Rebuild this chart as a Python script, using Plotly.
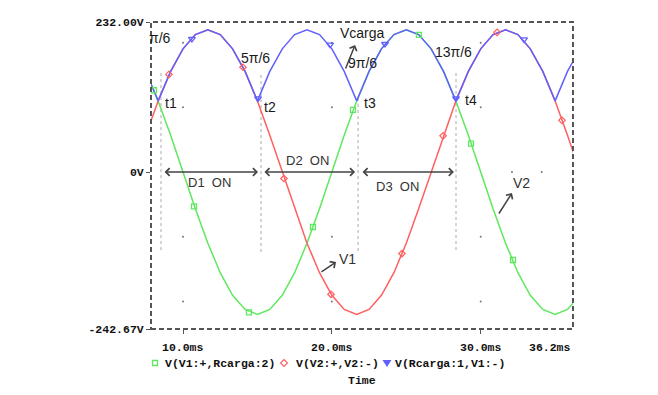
import plotly.graph_objects as go

# ---------------- data ----------------
t_ms = [7.50, 8.33, 9.17, 10.00, 10.83, 11.67, 12.50, 13.33, 14.17, 15.00,
        15.83, 16.67, 17.50, 18.33, 19.17, 20.00, 20.83, 21.67, 22.50, 23.33,
        24.17, 25.00, 25.83, 26.67, 27.50, 28.33, 29.17, 30.00, 30.83, 31.67,
        32.50, 33.33, 34.17, 35.00, 35.83, 36.67]

v1 = [155.6, 110.0, 56.9, 0.0, -56.9, -110.0, -155.6, -190.5, -212.5, -220.0,
      -212.5, -190.5, -155.6, -110.0, -56.9, 0.0, 56.9, 110.0, 155.6, 190.5,
      212.5, 220.0, 212.5, 190.5, 155.6, 110.0, 56.9, 0.0, -56.9, -110.0,
      -155.6, -190.5, -212.5, -220.0, -212.5, -190.5]

v2 = [56.9, 110.0, 155.6, 190.5, 212.5, 220.0, 212.5, 190.5, 155.6, 110.0,
      56.9, 0.0, -56.9, -110.0, -155.6, -190.5, -212.5, -220.0, -212.5, -190.5,
      -155.6, -110.0, -56.9, 0.0, 56.9, 110.0, 155.6, 190.5, 212.5, 220.0,
      212.5, 190.5, 155.6, 110.0, 56.9, 0.0]

vcarga = [155.6, 110.0, 155.6, 190.5, 212.5, 220.0, 212.5, 190.5, 155.6, 110.0,
          155.6, 190.5, 212.5, 220.0, 212.5, 190.5, 155.6, 110.0, 155.6, 190.5,
          212.5, 220.0, 212.5, 190.5, 155.6, 110.0, 155.6, 190.5, 212.5, 220.0,
          212.5, 190.5, 155.6, 110.0, 155.6, 190.5]

# PSpice marker positions
m1_t = [8.05, 10.74, 14.43, 18.73, 21.42, 25.85, 29.35, 32.17]
m1_v = [126.5, -53.0, -217.0, -85.0, 96.0, 212.0, 44.0, -136.0]
m2_t = [9.06, 14.03, 16.78, 19.94, 24.71, 27.47, 31.10, 35.46]
m2_v = [151.0, 162.0, -10.0, -189.0, -126.0, 56.0, 216.0, 80.0]
m3_t = [10.60, 15.04, 19.88, 23.57, 28.34, 32.91]
m3_v = [206.0, 114.0, 197.0, 198.0, 114.0, 205.0]

# instants t1..t4 and their dotted markers
t_marks = [8.52, 15.24, 21.76, 28.34]
t_marks_top = [153.0, 150.0, 114.5, 153.0]
t_marks_bottom = -123.6
t_labels = ["t1", "t2", "t3", "t4"]

# axis
y_min, y_max = -242.67, 232.0
x_min, x_max = 7.85, 36.2
y_tick_vals = [232.0, 0.0, -242.67]
y_tick_text = ["232.00V", "0V", "-242.67V"]
x_tick_vals = [10.0, 20.0, 30.0]
x_tick_text = ["10.0ms", "20.0ms", "30.0ms"]
x_end_text = "36.2ms"

grid_t = [10, 10, 10, 10, 20, 20, 20, 20, 30, 30, 30, 30, 32.1, 34.1]
grid_v = [200, 100, -100, -200, 200, 100, -100, -200, 200, 100, -100, -200, 0, 0]

legend_names = ["V(V1:+,Rcarga:2)", "V(V2:+,V2:-)", "V(Rcarga:1,V1:-)"]

GREEN = "#5fe85f"
RED = "#ff5f5f"
BLUE = "#6060ff"

fig = go.Figure()

fig.add_trace(go.Scatter(x=grid_t, y=grid_v, mode="markers",
                         marker=dict(size=2, color="#777"), showlegend=False, hoverinfo="skip"))
fig.add_trace(go.Scatter(x=t_ms, y=v1, mode="lines", line=dict(color=GREEN, width=1.5), showlegend=False))
fig.add_trace(go.Scatter(x=t_ms, y=v2, mode="lines", line=dict(color=RED, width=1.5), showlegend=False))
fig.add_trace(go.Scatter(x=t_ms, y=vcarga, mode="lines", line=dict(color=BLUE, width=1.5), showlegend=False))
fig.add_trace(go.Scatter(x=m1_t, y=m1_v, mode="markers",
                         marker=dict(symbol="square-open", size=5, color=GREEN, line=dict(width=1.3)), showlegend=False))
fig.add_trace(go.Scatter(x=m2_t, y=m2_v, mode="markers",
                         marker=dict(symbol="diamond-open", size=5, color=RED, line=dict(width=1.2)), showlegend=False))
fig.add_trace(go.Scatter(x=m3_t, y=m3_v, mode="markers",
                         marker=dict(symbol="triangle-down-open", size=6, color=BLUE, line=dict(width=1.3)), showlegend=False))

shapes = []
annotations = []

# dotted vertical lines at t1..t4
for tm, top in zip(t_marks, t_marks_top):
    shapes.append(dict(type="line", xref="x", yref="y", x0=tm, x1=tm, y0=top, y1=t_marks_bottom,
                       line=dict(color="#aaa", width=1, dash="dot"), layer="below"))

# dashed frame
shapes.append(dict(type="rect", xref="paper", yref="paper", x0=0, x1=1, y0=0, y1=1,
                   line=dict(color="#555", width=2, dash="5px,3px")))

def label(x, y, text, size=14, color="#1a1a1a"):
    annotations.append(dict(x=x, y=y, xref="x", yref="y", text=text, showarrow=False,
                            font=dict(family="Liberation Sans, Arial", size=size, color=color),
                            xanchor="center", yanchor="middle"))

label(8.45, 207.3, "π/6")
label(14.84, 176.3, "5π/6")
label(22.09, 215.0, "Vcarga")
label(22.03, 168.6, "9π/6")
label(28.14, 185.6, "13π/6")
for (tx, ty, tt) in [(9.19, 106.8, t_labels[0]), (15.84, 100.6, t_labels[1]),
                     (22.56, 106.8, t_labels[2]), (29.35, 111.4, t_labels[3])]:
    label(tx, ty, tt)
label(11.81, -16.9, "D1  ON", size=13, color="#333")
label(18.33, 17.1, "D2  ON", size=13, color="#333")
label(24.44, -23.1, "D3  ON", size=13, color="#333")
label(21.08, -134.4, "V1", color="#333")
label(32.71, -16.9, "V2", color="#333")

def arrow(x0, y0, x1, y1, both=False):
    annotations.append(dict(x=x1, y=y1, ax=x0, ay=y0, xref="x", yref="y", axref="x", ayref="y",
                            text="", showarrow=True, arrowhead=4, arrowsize=1, arrowwidth=1.5,
                            arrowcolor="#444", arrowside="end+start" if both else "end",
                            startarrowhead=4, startarrowsize=1))

# D1/D2/D3 conduction arrows at 0 V
arrow(8.66, 0, 15.04, 0, both=True)
arrow(15.37, 0, 21.56, 0, both=True)
arrow(21.96, 0, 28.20, 0, both=True)
# label pointers
arrow(20.88, 157.8, 21.56, 196.4)
arrow(19.20, -156.1, 20.28, -139.1)
arrow(31.16, -66.4, 32.10, -32.4)

# x tick labels
mono = dict(family="Liberation Mono, DejaVu Sans Mono", size=11.5, color="#111")
def px2x(px):
    return (px - 151) / 422.0
def py2y(py):
    return (329 - py) / 307.0

for v, s in zip(x_tick_vals, x_tick_text):
    annotations.append(dict(x=v, y=py2y(347), xref="x", yref="paper", text="<b>%s</b>" % s,
                            showarrow=False, font=mono, xanchor="center", yanchor="middle"))
annotations.append(dict(x=1.0, y=py2y(347), xref="paper", yref="paper", text="<b>%s</b>" % x_end_text,
                        showarrow=False, font=mono, xanchor="right", yanchor="middle"))

# legend
leg_text_x = [163, 294, 393]
for lx, name in zip(leg_text_x, legend_names):
    annotations.append(dict(x=px2x(lx), y=py2y(363), xref="paper", yref="paper", text="<b>%s</b>" % name,
                            showarrow=False, font=mono, xanchor="left", yanchor="middle"))
annotations.append(dict(x=px2x(362), y=py2y(380), xref="paper", yref="paper", text="<b>Time</b>",
                        showarrow=False, font=mono, xanchor="center", yanchor="middle"))

# legend symbols
shapes.append(dict(type="rect", xref="paper", yref="paper", x0=px2x(152.5), x1=px2x(157.5),
                   y0=py2y(365.5), y1=py2y(360.5), line=dict(color=GREEN, width=1.3)))
shapes.append(dict(type="path", xref="paper", yref="paper",
                   path="M %f %f L %f %f L %f %f L %f %f Z" % (px2x(284), py2y(359.5), px2x(287.5), py2y(363),
                                                               px2x(284), py2y(366.5), px2x(280.5), py2y(363)),
                   line=dict(color=RED, width=1.1)))
shapes.append(dict(type="path", xref="paper", yref="paper",
                   path="M %f %f L %f %f L %f %f Z" % (px2x(383.5), py2y(360.5), px2x(390.5), py2y(360.5),
                                                      px2x(387), py2y(366)),
                   line=dict(color=BLUE, width=1.1), fillcolor=BLUE))

fig.update_layout(
    width=658, height=395,
    margin=dict(l=151, r=85, t=22, b=66),
    paper_bgcolor="white", plot_bgcolor="white",
    shapes=shapes, annotations=annotations,
    showlegend=False,
    xaxis=dict(range=[x_min, x_max], showgrid=False, zeroline=False, showline=False,
               tickvals=x_tick_vals, ticks="outside", ticklen=4, tickcolor="#555",
               showticklabels=False, fixedrange=True),
    yaxis=dict(range=[y_min, y_max], showgrid=False, zeroline=False, showline=False,
               tickvals=y_tick_vals, ticktext=["<b>%s</b>" % s for s in y_tick_text],
               ticks="outside", ticklen=4, tickcolor="#555",
               tickfont=mono, fixedrange=True),
)

fig.write_html("out.html")
